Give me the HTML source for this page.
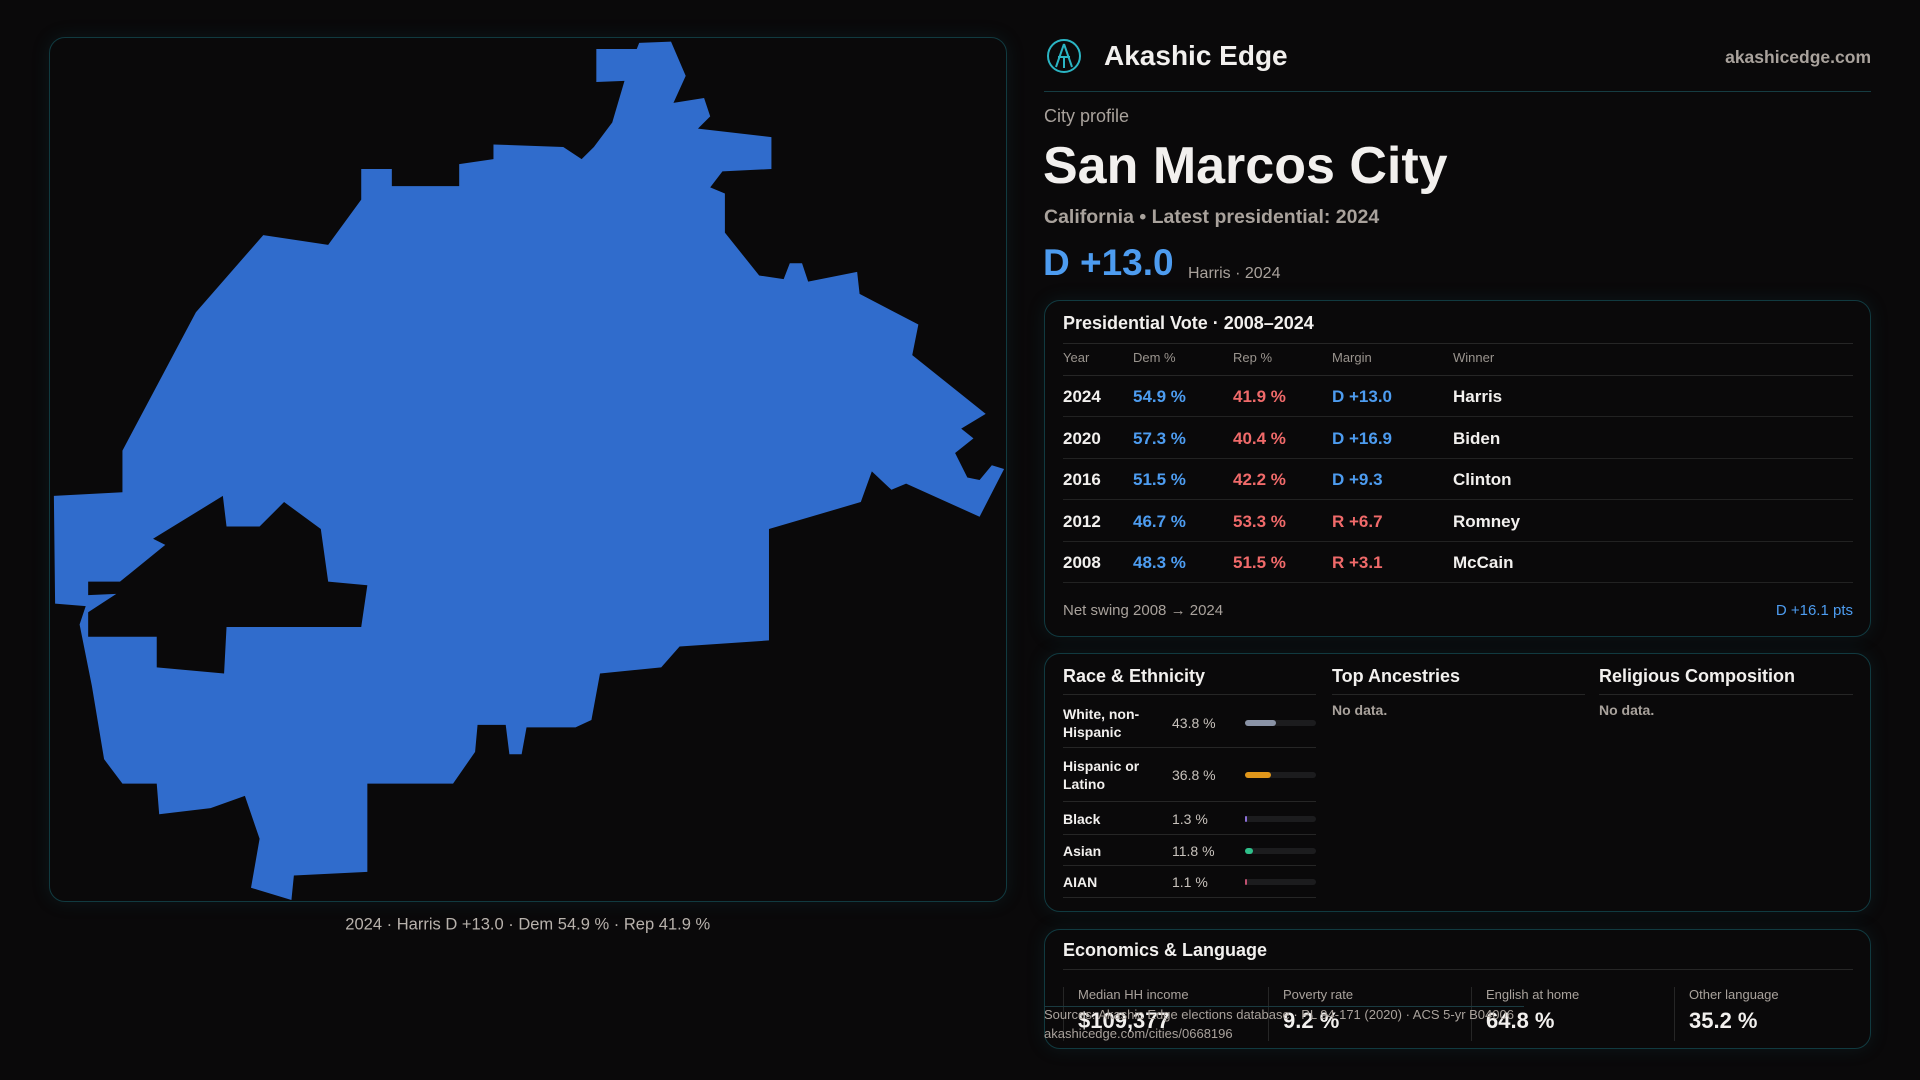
<!DOCTYPE html>
<html><head><meta charset="utf-8"><style>
*{box-sizing:border-box;margin:0;padding:0}
body{width:1920px;height:1080px;background:#0a090a;font-family:"Liberation Sans",sans-serif;color:#f2f0ee;position:relative;overflow:hidden}
.abs{position:absolute}
.panel{position:absolute;border:1px solid #113a40;border-radius:16px;background:#0a090a;box-shadow:0 0 18px rgba(20,90,100,.18)}
.muted{color:#a9a29c}
.row{position:absolute;left:1063px;width:790px;border-bottom:1px solid #222;height:41px}
.row span{position:absolute;top:11px;font-size:17px;font-weight:bold}
.hdr span{position:absolute;font-size:13px;color:#9a948e}
.dem{color:#4d9cf0}.rep{color:#f06a6a}
.rrow{position:absolute;left:1063px;width:253px;border-bottom:1px solid #262626}
.rrow .lab{position:absolute;left:0;font-size:14px;font-weight:bold;line-height:18px}
.rrow .val{position:absolute;left:109px;font-size:14px;color:#c8c2bc}
.rrow .track{position:absolute;left:182px;width:71px;height:6px;border-radius:3px;background:#1c1c1e}
.rrow .fill{height:6px;border-radius:3px}
.stat{position:absolute;top:987px;padding-left:14px;border-left:1px solid #262626;height:54px}
.stat .l{font-size:13px;color:#a9a29c}.stat .v{font-size:22px;font-weight:bold;margin-top:6px}
</style></head><body>
<div class="panel" style="left:49px;top:37px;width:958px;height:865px"></div>
<svg class="abs" style="left:0;top:0" width="1920" height="1080" viewBox="0 0 1568 882">
<polygon fill="#306ccc" points="487,40 520,40 522,35 548,34 560,62 550,84 575,80 580,95 570,105 630,112 630,138 590,140 580,153 592,158 592,190 620,225 640,228 645,215 655,215 660,230 700,222 702,240 750,265 745,290 805,338 785,350 795,358 780,370 790,390 800,392 810,380 820,383 800,422 740,395 728,400 712,385 703,410 628,432 628,523 555,528 540,545 490,550 483,588 470,594 430,594 426,616 416,616 413,592 390,592 388,614 370,640 300,640 300,712 240,715 238,735 205,725 212,685 200,650 172,660 130,665 128,640 100,640 85,620 75,560 65,510 70,495 45,493 44,405 100,402 100,368 160,255 215,192 268,200 295,163 295,138 320,138 320,152 375,152 375,134 403,130 403,118 460,120 475,130 485,120 500,100 510,66 487,67"/>
<polygon fill="#0a090a" points="72,475 98,475 135,445 125,440 182,405 185,430 212,430 232,410 262,432 268,475 300,478 295,512 185,512 183,550 128,545 128,520 72,520 72,500 95,485 72,486"/>
<text x="431" y="759" text-anchor="middle" font-family="Liberation Sans" font-size="13.5" fill="#b8b2ac">2024 · Harris D +13.0 · Dem 54.9 % · Rep 41.9 %</text>
</svg>

<svg class="abs" style="left:1045px;top:37px" width="38" height="38" viewBox="0 0 38 38"><circle cx="19" cy="19" r="16" fill="none" stroke="#2bb5c4" stroke-width="2"/><path d="M19 7 L11 30 M19 7 L27 30 M13 20 H25 M19 20 V31" stroke="#2bb5c4" stroke-width="2" fill="none"/></svg>
<div class="abs" style="left:1104px;top:40px;font-size:28px;font-weight:bold">Akashic Edge</div>
<div class="abs muted" style="right:49px;top:47px;font-size:17.5px;font-weight:bold">akashicedge.com</div>
<div class="abs" style="left:1044px;top:91px;width:827px;border-top:1px solid #163c42"></div>
<div class="abs muted" style="left:1044px;top:106px;font-size:18px">City profile</div>
<div class="abs" style="left:1043px;top:136px;font-size:52px;font-weight:bold">San Marcos City</div>
<div class="abs muted" style="left:1044px;top:206px;font-size:19.5px;font-weight:bold">California • Latest presidential: 2024</div>
<div class="abs dem" style="left:1043px;top:242px;font-size:37px;font-weight:bold">D +13.0</div>
<div class="abs muted" style="left:1188px;top:265px;font-size:16px">Harris · 2024</div>

<div class="panel" style="left:1044px;top:300px;width:827px;height:337px"></div>
<div class="abs" style="left:1063px;top:313px;font-size:18px;font-weight:bold">Presidential Vote · 2008–2024</div>
<div class="abs" style="left:1063px;top:343px;width:790px;border-top:1px solid #262626"></div>
<div class="abs hdr" style="left:0;top:350px;width:1920px;height:18px">
<span style="left:1063px">Year</span><span style="left:1133px">Dem %</span><span style="left:1233px">Rep %</span><span style="left:1332px">Margin</span><span style="left:1453px">Winner</span></div>
<div class="abs" style="left:1063px;top:375px;width:790px;border-top:1px solid #262626"></div>
<div id="vrows"></div>
<div class="abs muted" style="left:1063px;top:602px;font-size:15px">Net swing 2008 → 2024</div>
<div class="abs dem" style="right:67px;top:602px;font-size:15px">D +16.1 pts</div>

<div class="panel" style="left:1044px;top:653px;width:827px;height:259px"></div>
<div class="abs" style="left:1063px;top:666px;font-size:18px;font-weight:bold">Race &amp; Ethnicity</div>
<div class="abs" style="left:1332px;top:666px;font-size:18px;font-weight:bold">Top Ancestries</div>
<div class="abs" style="left:1599px;top:666px;font-size:18px;font-weight:bold">Religious Composition</div>
<div class="abs" style="left:1063px;top:694px;width:253px;border-top:1px solid #262626"></div>
<div class="abs" style="left:1332px;top:694px;width:253px;border-top:1px solid #262626"></div>
<div class="abs" style="left:1599px;top:694px;width:254px;border-top:1px solid #262626"></div>
<div class="abs muted" style="left:1332px;top:702px;font-size:14px;font-weight:bold">No data.</div>
<div class="abs muted" style="left:1599px;top:702px;font-size:14px;font-weight:bold">No data.</div>
<div id="rrows"></div>

<div class="panel" style="left:1044px;top:929px;width:827px;height:120px"></div>
<div class="abs" style="left:1063px;top:940px;font-size:18px;font-weight:bold">Economics &amp; Language</div>
<div class="abs" style="left:1063px;top:969px;width:790px;border-top:1px solid #262626"></div>
<div class="stat" style="left:1063px"><div class="l">Median HH income</div><div class="v">$109,377</div></div>
<div class="stat" style="left:1268px"><div class="l">Poverty rate</div><div class="v">9.2 %</div></div>
<div class="stat" style="left:1471px"><div class="l">English at home</div><div class="v">64.8 %</div></div>
<div class="stat" style="left:1674px"><div class="l">Other language</div><div class="v">35.2 %</div></div>
<div class="abs muted" style="left:1044px;top:1006px;font-size:13px;border-top:1px solid #1a3a40;width:480px">Sources: Akashic Edge elections database · PL 94-171 (2020) · ACS 5-yr B04006</div>
<div class="abs muted" style="left:1044px;top:1026px;font-size:13px">akashicedge.com/cities/0668196</div>

<script>
const years=[2024,2020,2016,2012,2008];
const demPct=[54.9,57.3,51.5,46.7,48.3];
const repPct=[41.9,40.4,42.2,53.3,51.5];
const margins=["D +13.0","D +16.9","D +9.3","R +6.7","R +3.1"];
const winners=["Harris","Biden","Clinton","Romney","McCain"];
const raceLabels=["White, non-<br>Hispanic","Hispanic or<br>Latino","Black","Asian","AIAN"];
const racePct=[43.8,36.8,1.3,11.8,1.1];
const raceColors=["#8a93a6","#e0961a","#8b6fd6","#2fbf8a","#c05070"];
const vr=document.getElementById('vrows');
years.forEach((y,i)=>{
 const d=document.createElement('div');
 d.className='row';
 
 
 d.style.top=(376+i*41.5)+'px';
 const cls=margins[i][0]==='D'?'dem':'rep';
 d.innerHTML=`<span style="left:0">${y}</span><span class="dem" style="left:70px">${demPct[i].toFixed(1)} %</span><span class="rep" style="left:170px">${repPct[i].toFixed(1)} %</span><span class="${cls}" style="left:269px">${margins[i]}</span><span style="left:390px">${winners[i]}</span>`;
 vr.appendChild(d);
});
const rr=document.getElementById('rrows');
const tops=[697,748,802,835,866];const hs=[51,54,33,31,32];
racePct.forEach((p,i)=>{
 const d=document.createElement('div');
 d.className='rrow';
 
 
 d.style.top=tops[i]+'px';d.style.height=hs[i]+'px';
 const c=hs[i]/2;
 d.innerHTML=`<div class="lab" style="top:${c-(i<2?18:9)}px">${raceLabels[i]}</div><div class="val" style="top:${c-8}px">${p.toFixed(1)} %</div><div class="track" style="top:${c-3}px"><div class="fill" style="width:${Math.max(2,p/100*71)}px;background:${raceColors[i]}"></div></div>`;
 rr.appendChild(d);
});
</script>
</body></html>
